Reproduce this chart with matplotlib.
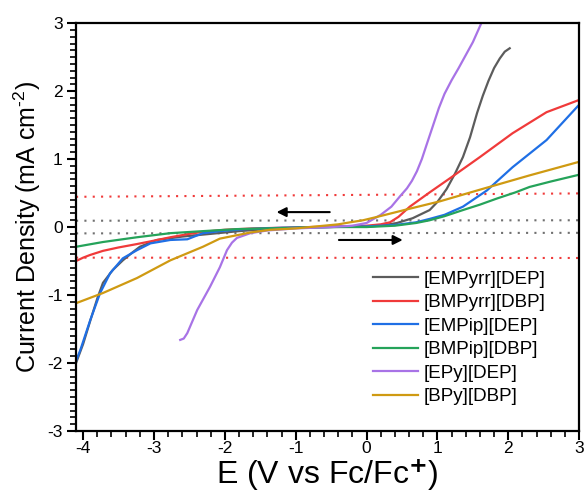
import matplotlib
matplotlib.use("Agg")
import matplotlib.pyplot as plt
from matplotlib.ticker import MultipleLocator

plt.rcParams['font.family'] = ['Liberation Sans', 'DejaVu Sans']
plt.rcParams['mathtext.fontset'] = 'custom'
plt.rcParams['mathtext.rm'] = 'Liberation Sans'
plt.rcParams['mathtext.it'] = 'Liberation Sans:italic'
plt.rcParams['axes.unicode_minus'] = False

# LSV scans of the six ionic liquids
names = ['[EMPyrr][DEP]', '[BMPyrr][DBP]', '[EMPip][DEP]',
         '[BMPip][DBP]', '[EPy][DEP]', '[BPy][DBP]']
colors = ['#5c5c5c', '#f03a3a', '#1f6fe5', '#25a35a', '#a873e6', '#cf9a12']

e_empyrr = [-4.1, -4.0, -3.9, -3.8, -3.72, -3.58, -3.44, -3.3, -3.2, -2.96, -2.6, -2.2,
            -1.8, -1.4, -1.0, -0.5, 0.0, 0.2, 0.43, 0.65, 0.89, 1.0, 1.13, 1.25, 1.36,
            1.46, 1.56, 1.64, 1.72, 1.8, 1.88, 1.95, 2.02]
j_empyrr = [-2.0, -1.72, -1.38, -1.05, -0.82, -0.63, -0.49, -0.37, -0.29, -0.19, -0.14, -0.1,
            -0.06, -0.03, -0.01, 0.0, 0.01, 0.02, 0.06, 0.13, 0.25, 0.37, 0.56, 0.79, 1.03,
            1.32, 1.68, 1.93, 2.15, 2.34, 2.48, 2.58, 2.63]

e_bmpyrr = [-4.1, -4.0, -3.9, -3.72, -3.5, -3.24, -3.0, -2.77, -2.5, -2.31, -2.0, -1.6, -1.2,
            -0.8, -0.4, 0.0, 0.2, 0.33, 0.45, 0.61, 0.89, 1.18, 1.6, 2.06, 2.54, 3.0]
j_bmpyrr = [-0.5, -0.45, -0.41, -0.35, -0.3, -0.25, -0.2, -0.15, -0.1, -0.07, -0.04, -0.02, -0.01,
            0.0, 0.01, 0.02, 0.04, 0.07, 0.15, 0.3, 0.51, 0.72, 1.03, 1.38, 1.69, 1.87]

e_empip = [-4.1, -4.04, -3.9, -3.76, -3.62, -3.44, -3.24, -3.05, -2.77, -2.53, -2.31, -2.07,
           -1.7, -1.2, -0.6, 0.0, 0.4, 0.7, 0.89, 1.1, 1.36, 1.7, 2.06, 2.54, 3.0]
j_empip = [-1.97, -1.81, -1.37, -0.97, -0.68, -0.46, -0.34, -0.24, -0.19, -0.18, -0.09, -0.06,
           -0.03, -0.01, 0.0, 0.01, 0.03, 0.07, 0.12, 0.18, 0.3, 0.54, 0.88, 1.28, 1.8]

e_bmpip = [-4.1, -3.72, -3.24, -2.77, -2.31, -1.83, -1.4, -1.0, -0.5, 0.0, 0.4, 0.7, 0.89,
           1.1, 1.36, 1.6, 1.84, 2.1, 2.3, 2.6, 3.0]
j_bmpip = [-0.29, -0.22, -0.15, -0.09, -0.06, -0.03, -0.02, -0.01, 0.0, 0.0, 0.02, 0.06, 0.1,
           0.16, 0.25, 0.33, 0.42, 0.51, 0.59, 0.67, 0.77]

e_epy = [-2.63, -2.58, -2.53, -2.39, -2.21, -2.07, -1.97, -1.9, -1.83, -1.64, -1.4, -1.0,
         -0.5, -0.2, 0.0, 0.2, 0.35, 0.47, 0.57, 0.64, 0.71, 0.78, 0.85, 0.94, 1.02, 1.1,
         1.2, 1.3, 1.4, 1.5, 1.62]
j_epy = [-1.66, -1.64, -1.56, -1.22, -0.88, -0.59, -0.34, -0.23, -0.16, -0.09, -0.05, -0.02,
         0.0, 0.02, 0.06, 0.18, 0.3, 0.45, 0.57, 0.68, 0.82, 1.0, 1.22, 1.5, 1.75, 1.96,
         2.16, 2.34, 2.53, 2.72, 3.0]

e_bpy = [-4.1, -3.72, -3.24, -2.77, -2.31, -2.07, -1.83, -1.64, -1.36, -1.0, -0.7, -0.4,
         -0.23, -0.05, 0.15, 0.57, 1.04, 1.6, 2.3, 3.0]
j_bpy = [-1.12, -0.97, -0.75, -0.49, -0.29, -0.17, -0.12, -0.08, -0.04, -0.02, 0.01, 0.04,
         0.07, 0.1, 0.15, 0.26, 0.38, 0.55, 0.76, 0.96]

# cut-off current levels (dotted guides)
x_span = [-4.1, 3.0]
cut_red_hi = [0.445, 0.495]
cut_red_lo = [-0.45, -0.455]
cut_gray_hi = [0.093, 0.10]
cut_gray_lo = [-0.093, -0.085]

curves = [(e_empyrr, j_empyrr), (e_bmpyrr, j_bmpyrr), (e_empip, j_empip),
          (e_bmpip, j_bmpip), (e_epy, j_epy), (e_bpy, j_bpy)]

fig = plt.figure(figsize=(5.85, 4.92), dpi=100)
ax = fig.add_axes([0.130, 0.124, 0.860, 0.829])

ax.plot(x_span, cut_red_hi, color='#f03a3a', lw=1.5, ls=(0, (1, 3)))
ax.plot(x_span, cut_red_lo, color='#f03a3a', lw=1.5, ls=(0, (1, 3)))
ax.plot(x_span, cut_gray_hi, color='#707070', lw=1.5, ls=(0, (1, 3)))
ax.plot(x_span, cut_gray_lo, color='#707070', lw=1.5, ls=(0, (1, 3)))

for (e, j), name, c in zip(curves, names, colors):
    ax.plot(e, j, color=c, lw=1.6, label=name, solid_joinstyle='round')

# scan direction arrows
ax.annotate('', xy=(-1.27, 0.22), xytext=(-0.52, 0.22),
            arrowprops=dict(arrowstyle='-|>', color='black', lw=1.5,
                            mutation_scale=14, shrinkA=0, shrinkB=0))
ax.annotate('', xy=(0.51, -0.19), xytext=(-0.39, -0.19),
            arrowprops=dict(arrowstyle='-|>', color='black', lw=1.5,
                            mutation_scale=14, shrinkA=0, shrinkB=0))

ax.set_xlim(-4.1, 3)
ax.set_ylim(-3, 3)
ax.xaxis.set_major_locator(MultipleLocator(1))
ax.xaxis.set_minor_locator(MultipleLocator(0.2))
ax.yaxis.set_major_locator(MultipleLocator(1))
ax.yaxis.set_minor_locator(MultipleLocator(0.1))
ax.tick_params(which='major', length=6.5, width=1.5, labelsize=12.5)
ax.tick_params(which='minor', length=4, width=1.2)
ax.tick_params(axis='x', which='both', pad=1)
ax.tick_params(axis='y', which='both', pad=3)
for s in ax.spines.values():
    s.set_linewidth(1.6)

ax.set_xlabel(r'E (V vs Fc/Fc$^{\mathbf{+}}$)', fontsize=23, labelpad=0)
ax.set_ylabel(r'Current Density (mA cm$^{\text{-}2}$)', fontsize=18, labelpad=3)

ax.legend(loc='upper left', bbox_to_anchor=(0.59, 0.393), frameon=False,
          fontsize=13.5, handlelength=2.4, handletextpad=0.3,
          labelspacing=0.34, borderpad=0, borderaxespad=0)

fig.savefig('out.png', dpi=100)
